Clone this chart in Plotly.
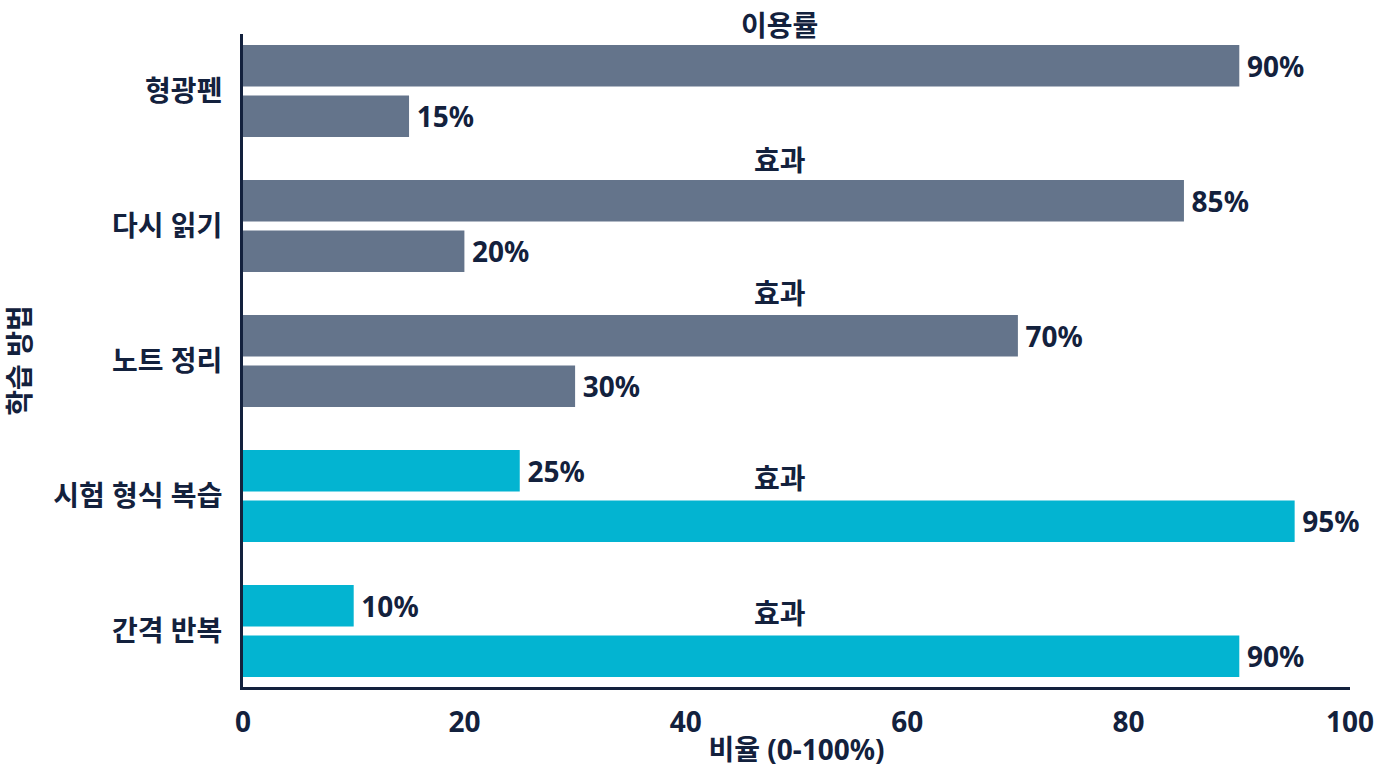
import plotly.graph_objects as go

categories = ["형광펜", "다시 읽기", "노트 정리", "시험 형식 복습", "간격 반복"]
usage = [90, 85, 70, 25, 10]
effect = [15, 20, 30, 95, 90]
series_names = ["이용률", "효과"]
x_ticks = [0, 20, 40, 60, 80, 100]

GRAY = "#64748b"
CYAN = "#03b4d1"
NAVY = "#13213d"
colors = [GRAY, GRAY, GRAY, CYAN, CYAN]
FONT = "Noto Sans, Noto Sans CJK KR"
FS = 28

Y_RANGE = [4.415, -0.422]

def fnt(size=FS):
    return dict(family=FONT, size=size, color=NAVY, weight="bold")

fig = go.Figure()
for name, vals in zip(series_names, [usage, effect]):
    fig.add_trace(go.Bar(
        y=categories, x=vals, orientation="h", name=name,
        marker=dict(color=colors, line=dict(width=0)),
        text=[f"\u2009{v}%" for v in vals], textposition="outside",
        textfont=fnt(),
        cliponaxis=False, constraintext="none",
    ))

# label annotations (as placed in the reference), y in category units
ann_pos = [(series_names[0], 0 - 0.49), (series_names[1], 1 - 0.49), (series_names[1], 2 - 0.50),
           (series_names[1], 3 - 0.13), (series_names[1], 4 - 0.13)]
for txt, yy in ann_pos:
    paper_y = (Y_RANGE[0] - yy) / (Y_RANGE[0] - Y_RANGE[1])
    fig.add_annotation(x=48.5, y=paper_y, xref="x", yref="paper", text=txt, showarrow=False,
                       xanchor="center", yanchor="middle", font=fnt())

fig.update_layout(
    width=1376, height=768,
    margin=dict(l=243, r=26, t=34, b=81),
    paper_bgcolor="white", plot_bgcolor="white",
    barmode="group", bargap=0.252, bargroupgap=0.178,
    showlegend=False,
    font=fnt(),
)
fig.update_xaxes(
    range=[0, 100], tickvals=x_ticks, showgrid=False, zeroline=False,
    showline=True, linecolor=NAVY, linewidth=3, ticks="",
    ticklabelstandoff=8, automargin=False,
    tickfont=fnt(),
    title=dict(text="비율 (0-100%)", standoff=10, font=fnt()),
)
fig.update_yaxes(
    categoryorder="array", categoryarray=categories,
    range=Y_RANGE, showgrid=False, zeroline=False,
    showline=True, linecolor=NAVY, linewidth=3, ticks="",
    ticklabelstandoff=12, automargin=True,
    tickfont=fnt(),
    title=dict(text="학습 방법", standoff=18, font=fnt()),
)

fig.write_html("out.html")
